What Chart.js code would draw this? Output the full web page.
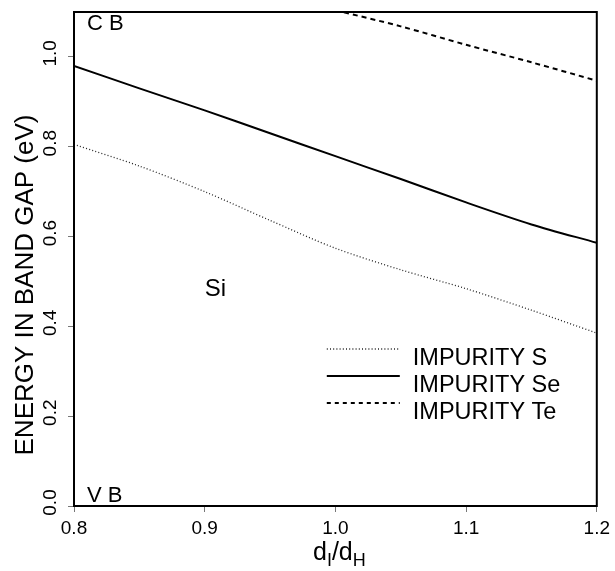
<!DOCTYPE html>
<html>
<head>
<meta charset="utf-8">
<script src="https://cdn.jsdelivr.net/npm/chart.js@4.4.1/dist/chart.umd.min.js"></script>
<style>
  html, body { margin: 0; padding: 0; background: #fff; }
</style>
</head>
<body>
<canvas id="gapChart" width="615" height="571"></canvas>
<script>
// values (energy in eV vs d_I/d_H)
const xValues = [0.80, 0.85, 0.90, 0.95, 1.00, 1.05, 1.10, 1.15, 1.20];
const impurityS = [0.805, 0.757, 0.700, 0.636, 0.574, 0.526, 0.484, 0.436, 0.385];
const impuritySe = [0.980, 0.930, 0.881, 0.830, 0.779, 0.728, 0.676, 0.627, 0.586];
const xTe = [1.00, 1.05, 1.10, 1.15, 1.20];
const impurityTe = [1.104, 1.068, 1.027, 0.988, 0.947];

const xTicks = [0.8, 0.9, 1.0, 1.1, 1.2];
const yTicks = [0.0, 0.2, 0.4, 0.6, 0.8, 1.0];
const seriesNames = ["IMPURITY S", "IMPURITY Se", "IMPURITY Te"];
const noteTexts = ["C B", "V B", "Si"];
const noteX = [0.81, 0.81, 0.90];
const noteY = [1.06, 0.01, 0.468];

const fontFamily = '"Liberation Sans", Arial, Helvetica, sans-serif';
Chart.defaults.font.family = fontFamily;
Chart.defaults.color = '#000';

function toPoints(xs, ys) {
    return xs.map((x, i) => ({ x: x, y: ys[i] }));
}

// frame, rotated y labels, titles, notes and the in-plot legend
const decorPlugin = {
    id: 'decor',
    afterDraw(chart) {
        const ctx = chart.ctx;
        const area = chart.chartArea;
        const xs = chart.scales.x;
        const ys = chart.scales.y;

        ctx.save();
        ctx.strokeStyle = '#000';
        ctx.lineWidth = 2;
        ctx.strokeRect(area.left, area.top, area.right - area.left, area.bottom - area.top);

        // y tick labels, reading upwards
        ctx.fillStyle = '#000';
        ctx.font = '19px ' + fontFamily;
        ctx.textAlign = 'center';
        ctx.textBaseline = 'middle';
        ys.ticks.forEach(t => {
            const py = ys.getPixelForValue(t.value);
            ctx.save();
            ctx.translate(area.left - 23, py - 3.5);
            ctx.rotate(-Math.PI / 2);
            ctx.fillText(t.value.toFixed(1), 0, 0);
            ctx.restore();
        });

        // y title
        ctx.save();
        ctx.translate(33, (area.top + area.bottom) / 2 + 26);
        ctx.rotate(-Math.PI / 2);
        ctx.font = '26px ' + fontFamily;
        ctx.textBaseline = 'alphabetic';
        ctx.fillText('ENERGY IN BAND GAP (eV)', 0, 0);
        ctx.restore();

        // x title d_I / d_H
        const big = '25px ' + fontFamily;
        const small = '18px ' + fontFamily;
        const parts = [['d', big, 0], ['I', small, 6], ['/', big, 0], ['d', big, 0], ['H', small, 6]];
        let total = 0;
        parts.forEach(p => { ctx.font = p[1]; total += ctx.measureText(p[0]).width; });
        let cx = (area.left + area.right) / 2 + 4 - total / 2;
        const baseY = 560;
        ctx.textAlign = 'left';
        ctx.textBaseline = 'alphabetic';
        parts.forEach(p => {
            ctx.font = p[1];
            ctx.fillText(p[0], cx, baseY + p[2]);
            cx += ctx.measureText(p[0]).width;
        });

        // notes inside the plot
        noteTexts.forEach((txt, i) => {
            ctx.font = (txt === 'Si' ? '24px ' : '22px ') + fontFamily;
            ctx.fillText(txt, xs.getPixelForValue(noteX[i]), ys.getPixelForValue(noteY[i]));
        });

        // legend
        const lx0 = area.right - 270;
        const lx1 = area.right - 197;
        const tx = area.right - 184;
        chart.data.datasets.forEach((ds, i) => {
            const ly = 349 + i * 27;
            ctx.beginPath();
            ctx.strokeStyle = ds.borderColor;
            ctx.lineWidth = ds.borderWidth;
            ctx.setLineDash(ds.legendDash || []);
            ctx.moveTo(lx0, ly);
            ctx.lineTo(lx1, ly);
            ctx.stroke();
            ctx.setLineDash([]);
            ctx.font = '23.5px ' + fontFamily;
            ctx.fillText(ds.label, tx, ly + 16);
        });
        ctx.restore();
    }
};

const ctx = document.getElementById('gapChart').getContext('2d');
const chart = new Chart(ctx, {
    type: 'line',
    data: {
        datasets: [
            {
                label: seriesNames[0],
                data: toPoints(xValues, impurityS),
                borderColor: '#222',
                borderWidth: 1.3,
                borderDash: [1, 2.2],
                legendDash: [1, 2.2],
                pointRadius: 0,
                tension: 0.3
            },
            {
                label: seriesNames[1],
                data: toPoints(xValues, impuritySe),
                borderColor: '#000',
                borderWidth: 2,
                pointRadius: 0,
                tension: 0.3
            },
            {
                label: seriesNames[2],
                data: toPoints(xTe, impurityTe),
                borderColor: '#000',
                borderWidth: 2,
                borderDash: [5, 4],
                legendDash: [4, 4],
                pointRadius: 0,
                tension: 0.3,
                clip: 0
            }
        ]
    },
    options: {
        responsive: false,
        animation: false,
        devicePixelRatio: 1,
        layout: { padding: { top: 12, right: 18, left: 0, bottom: 0 } },
        plugins: {
            legend: { display: false },
            tooltip: { enabled: false }
        },
        scales: {
            x: {
                type: 'linear',
                min: 0.8,
                max: 1.2,
                afterBuildTicks: s => { s.ticks = xTicks.map(v => ({ value: v })); },
                afterFit: s => { s.height = 65; },
                ticks: {
                    font: { size: 19 },
                    padding: 5,
                    maxRotation: 0,
                    autoSkip: false,
                    callback: v => Number(v).toFixed(1)
                },
                grid: { drawOnChartArea: false, tickLength: 6, color: '#777' },
                border: { color: '#000', width: 2 }
            },
            y: {
                min: 0,
                max: 1.1,
                afterBuildTicks: s => { s.ticks = yTicks.map(v => ({ value: v })); },
                afterFit: s => { s.width = 74; },
                ticks: { display: false },
                grid: { drawOnChartArea: false, tickLength: 6, color: '#777' },
                border: { color: '#000', width: 2 }
            }
        }
    },
    plugins: [decorPlugin]
});
</script>
</body>
</html>
